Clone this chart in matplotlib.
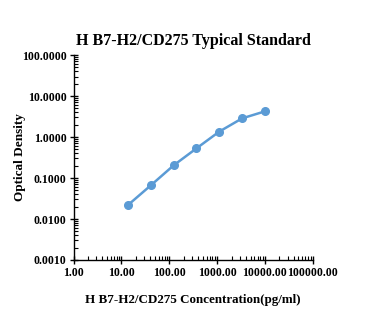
import matplotlib
matplotlib.use("Agg")
import matplotlib.pyplot as plt
from matplotlib.ticker import LogLocator, FixedLocator, NullFormatter

conc = [13.7, 41.2, 123.5, 370.4, 1111.1, 3333.3, 10000.0]
od = [0.0219, 0.0664, 0.204, 0.53, 1.36, 2.86, 4.24]
x_ticks = [1, 10, 100, 1000, 10000, 100000]
x_labels = ["1.00", "10.00", "100.00", "1000.00", "10000.00", "100000.00"]
y_ticks = [0.001, 0.01, 0.1, 1, 10, 100]
y_labels = ["0.0010", "0.0100", "0.1000", "1.0000", "10.0000", "100.0000"]

plt.rcParams['font.family'] = ['Liberation Serif', 'DejaVu Serif']
plt.rcParams['font.weight'] = 'bold'

fig = plt.figure(figsize=(3.68, 3.26), dpi=100)
ax = fig.add_axes([0.2, 0.2025, 0.65, 0.6285])
color = '#5B9BD5'
ax.plot(conc, od, color=color, lw=1.8, marker='o', ms=5.5, mfc=color, mec=color)
ax.set_xscale('log')
ax.set_yscale('log')
ax.set_xlim(1, 100000)
ax.set_ylim(0.001, 100)
ax.xaxis.set_major_locator(FixedLocator(x_ticks))
ax.set_xticklabels(x_labels)
ax.yaxis.set_major_locator(FixedLocator(y_ticks))
ax.set_yticklabels(y_labels)
ax.xaxis.set_minor_locator(LogLocator(base=10, subs=range(2, 10), numticks=20))
ax.yaxis.set_minor_locator(LogLocator(base=10, subs=range(2, 10), numticks=20))
ax.xaxis.set_minor_formatter(NullFormatter())
ax.yaxis.set_minor_formatter(NullFormatter())
for s in ['top', 'right']:
    ax.spines[s].set_visible(False)
for s in ['left', 'bottom']:
    ax.spines[s].set_linewidth(1.0)
ax.tick_params(which='major', direction='inout', length=6, width=1.0, labelsize=8.6, pad=2)
ax.tick_params(which='minor', direction='in', length=3, width=0.8)
for lab in ax.get_xticklabels() + ax.get_yticklabels():
    lab.set_fontweight('bold')
ax.set_title("H B7-H2/CD275 Typical Standard", fontsize=11.5, fontweight='bold', pad=7)
ax.set_xlabel("H B7-H2/CD275 Concentration(pg/ml)", fontsize=9.4, fontweight='bold', labelpad=11)
ax.set_ylabel("Optical Density", fontsize=9.5, fontweight='bold')
ax.yaxis.set_label_coords(-0.2, 0.5)
fig.savefig("out.png", dpi=100)
